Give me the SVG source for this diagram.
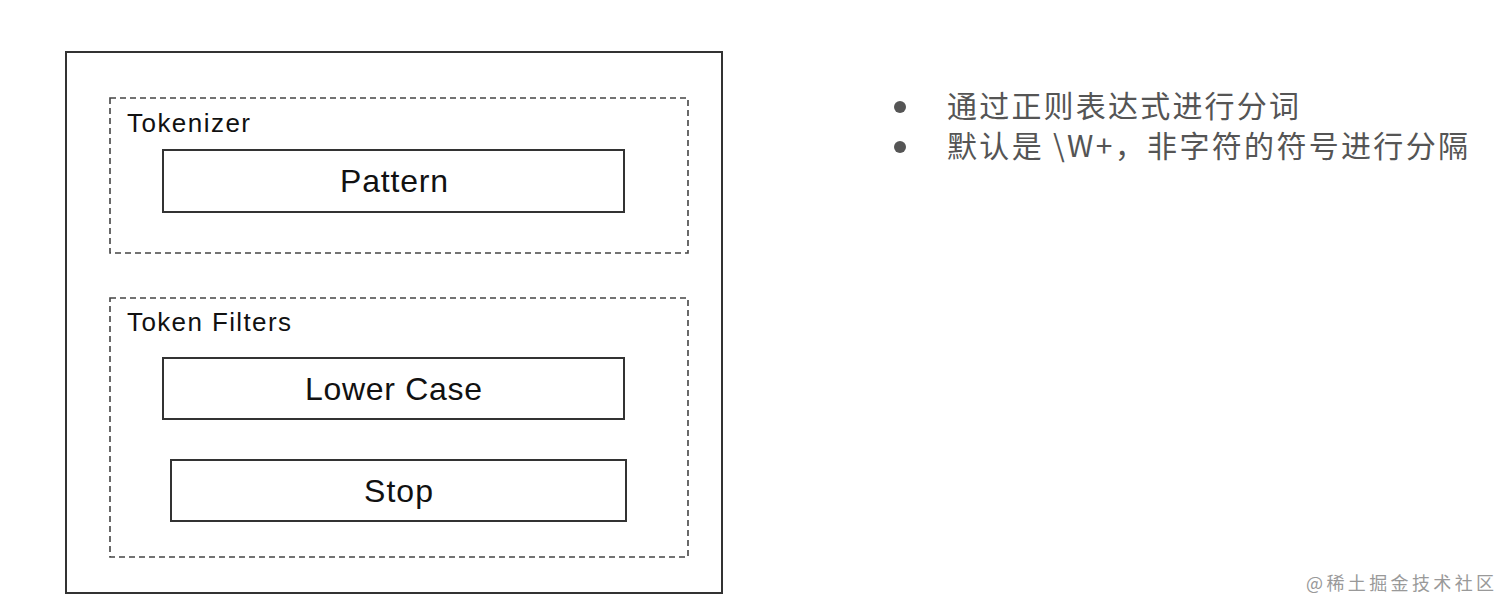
<svg xmlns="http://www.w3.org/2000/svg" width="1512" height="615" viewBox="0 0 1512 615">
<style>
.solid{fill:#fff;stroke:#333;stroke-width:2}
.dash{fill:none;stroke:#444;stroke-width:1.6;stroke-dasharray:6,4}
.t{font-family:"Liberation Sans","Noto Sans CJK SC",sans-serif;fill:#111}
.c{font-family:"Noto Sans CJK SC",sans-serif;fill:#555;font-size:30px}
</style>
<rect width="1512" height="615" fill="#fff"/>
<g id="outer"><rect class="solid" x="66" y="52" width="656" height="541"/></g>
<g id="tokenizer"><rect class="dash" x="110" y="98" width="578" height="155"/>
<text class="t" x="127" y="132" font-size="26" textLength="123">Tokenizer</text></g>
<g id="pattern"><rect class="solid" x="163" y="150" width="461" height="62"/>
<text class="t" x="340" y="192" font-size="32" textLength="108">Pattern</text></g>
<g id="filters"><rect class="dash" x="110" y="298" width="578" height="259"/>
<text class="t" x="127" y="331" font-size="26" textLength="164">Token Filters</text></g>
<g id="lower"><rect class="solid" x="163" y="358" width="461" height="61"/>
<text class="t" x="305" y="400" font-size="32" textLength="177">Lower Case</text></g>
<g id="stop"><rect class="solid" x="171" y="460" width="455" height="61"/>
<text class="t" x="364" y="502" font-size="32" textLength="69">Stop</text></g>
<g id="connectors"></g>
<g id="notes">
<circle cx="900" cy="107" r="6" fill="#555"/>
<circle cx="900" cy="147" r="6" fill="#555"/>
<text class="c" x="947" y="117" textLength="352">通过正则表达式进行分词</text>
<text class="c" x="947" y="157" textLength="521">默认是 \W+，非字符的符号进行分隔</text>
</g>
<text x="1306" y="590" font-family="Noto Sans CJK SC,sans-serif" font-size="18" fill="#999" textLength="188">@稀土掘金技术社区</text>
</svg>
